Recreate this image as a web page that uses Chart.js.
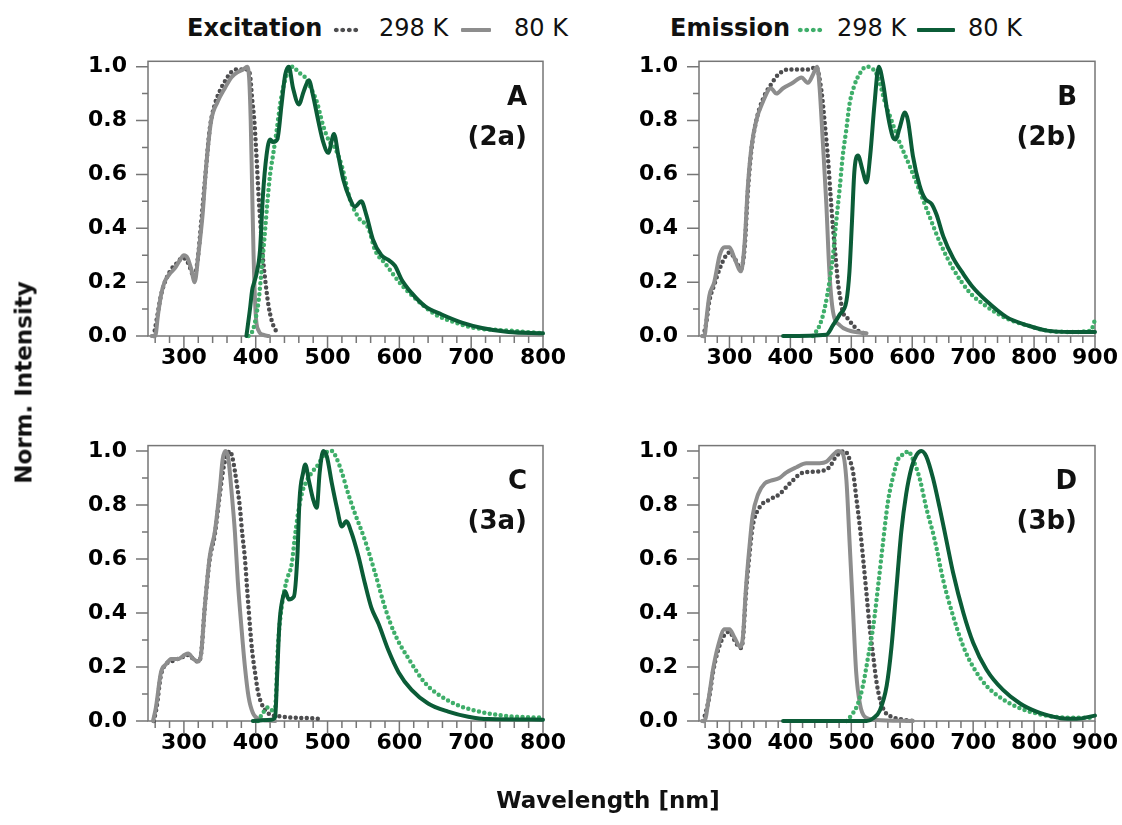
<!DOCTYPE html>
<html>
<head>
<meta charset="utf-8">
<script src="https://cdn.jsdelivr.net/npm/chart.js@4.4.1/dist/chart.umd.min.js"></script>
<style>
  body { margin: 0; background: #fff; }
  #fig { position: relative; width: 1122px; height: 825px; overflow: hidden; font-family: "DejaVu Sans", sans-serif; color: #111; }
  #fig canvas { position: absolute; }
  .txt { position: absolute; white-space: nowrap; }
  .key { top: 16px; font-size: 24px; line-height: 24px; }
  .bold { font-weight: bold; }
  .dots { position: absolute; top: 27px; height: 6px; background-size: 6.5px 6px; background-repeat: repeat-x; }
  .bar { position: absolute; top: 28px; height: 4px; border-radius: 1px; }
  .tag { font-size: 26px; line-height: 26px; font-weight: bold; text-align: right; }
</style>
</head>
<body>
<div id="fig">
  <!-- legend row -->
  <span class="txt key bold" style="left:187px">Excitation</span>
  <span class="dots" style="left:333px;width:26px;background-image:radial-gradient(circle,#4d4d4f 2px,transparent 2.6px)"></span>
  <span class="txt key" style="left:379px">298 K</span>
  <span class="bar" style="left:461px;width:30px;background:#8d8d8d"></span>
  <span class="txt key" style="left:514px">80 K</span>

  <span class="txt key bold" style="left:670px">Emission</span>
  <span class="dots" style="left:797px;width:26px;background-image:radial-gradient(circle,#3fae6a 2px,transparent 2.6px)"></span>
  <span class="txt key" style="left:837px">298 K</span>
  <span class="bar" style="left:917px;width:38px;background:#0b5c37"></span>
  <span class="txt key" style="left:968px">80 K</span>

  <canvas id="pA" width="575" height="384" style="left:0;top:40px"></canvas>
  <canvas id="pB" width="547" height="384" style="left:575px;top:40px"></canvas>
  <canvas id="pC" width="575" height="390" style="left:0;top:424px"></canvas>
  <canvas id="pD" width="547" height="390" style="left:575px;top:424px"></canvas>

  <div class="txt tag" style="right:595px;top:83px">A</div>
  <div class="txt tag" style="right:595px;top:123px">(2a)</div>
  <div class="txt tag" style="right:45px;top:83px">B</div>
  <div class="txt tag" style="right:45px;top:123px">(2b)</div>
  <div class="txt tag" style="right:595px;top:467px">C</div>
  <div class="txt tag" style="right:595px;top:507px">(3a)</div>
  <div class="txt tag" style="right:45px;top:467px">D</div>
  <div class="txt tag" style="right:45px;top:507px">(3b)</div>

  <div class="txt bold" style="left:-126px;top:371px;width:300px;height:23px;font-size:23px;line-height:23px;text-align:center;transform:rotate(-90deg)">Norm. Intensity</div>
  <div class="txt bold" style="left:408px;top:789px;width:400px;font-size:23px;line-height:23px;text-align:center">Wavelength [nm]</div>
</div>

<script>
// ---- panel A (2a) ----
const aExc298Wl = [258, 262, 268, 275, 283, 290, 298, 304, 309, 314, 319, 324, 330, 336, 343, 350, 358, 366, 374, 382, 388, 392, 395, 398, 401, 404, 407, 410, 414, 418, 422, 426, 431];
const aExc298   = [0, 0.06, 0.15, 0.21, 0.25, 0.27, 0.29, 0.28, 0.25, 0.22, 0.28, 0.42, 0.60, 0.77, 0.86, 0.91, 0.95, 0.98, 0.99, 0.99, 0.99, 0.97, 0.88, 0.80, 0.67, 0.52, 0.40, 0.29, 0.19, 0.11, 0.06, 0.03, 0.01];
const aExc80Wl  = [255, 260, 264, 268, 273, 280, 287, 294, 300, 305, 310, 315, 320, 326, 331, 338, 347, 357, 366, 375, 383, 388, 391, 393, 395, 397, 400, 404, 410, 418];
const aExc80    = [0, 0, 0.08, 0.15, 0.20, 0.23, 0.25, 0.28, 0.30, 0.29, 0.25, 0.20, 0.30, 0.45, 0.63, 0.80, 0.87, 0.92, 0.96, 0.98, 0.99, 1.0, 0.95, 0.80, 0.55, 0.30, 0.08, 0.02, 0.005, 0];
const aEm298Wl  = [390, 394, 398, 401, 404, 408, 412, 416, 420, 424, 429, 434, 438, 445, 452, 459, 469, 475, 485, 494, 503, 510, 520, 531, 543, 557, 566, 580, 603, 626, 650, 678, 705, 752, 800];
const aEm298    = [0, 0.01, 0.04, 0.08, 0.13, 0.24, 0.36, 0.49, 0.60, 0.67, 0.76, 0.86, 0.92, 0.98, 1.0, 0.98, 0.96, 0.93, 0.87, 0.78, 0.72, 0.70, 0.63, 0.51, 0.44, 0.40, 0.32, 0.27, 0.19, 0.13, 0.08, 0.05, 0.03, 0.02, 0.01];
const aEm80Wl   = [387, 392, 395, 398, 401, 406, 410, 415, 420, 424, 430, 436, 441, 446, 452, 460, 467, 474, 480, 487, 494, 501, 509, 515, 522, 531, 538, 547, 554, 563, 575, 586, 594, 603, 617, 636, 659, 687, 715, 752, 800];
const aEm80     = [0, 0.10, 0.17, 0.20, 0.23, 0.32, 0.52, 0.67, 0.73, 0.72, 0.73, 0.86, 0.97, 1.0, 0.92, 0.86, 0.91, 0.95, 0.89, 0.80, 0.72, 0.68, 0.75, 0.67, 0.58, 0.51, 0.48, 0.50, 0.45, 0.36, 0.30, 0.28, 0.26, 0.21, 0.16, 0.11, 0.08, 0.05, 0.03, 0.015, 0.01];

// ---- panel B (2b) ----
const bExc298Wl = [257, 262, 267, 275, 284, 292, 300, 308, 319, 325, 330, 336, 344, 355, 370, 382, 399, 415, 432, 442, 451, 456, 462, 466, 470, 474, 478, 482, 486, 494, 503, 514, 525];
const bExc298   = [0, 0.05, 0.13, 0.19, 0.25, 0.29, 0.31, 0.29, 0.25, 0.33, 0.53, 0.69, 0.80, 0.88, 0.94, 0.975, 0.99, 0.99, 0.99, 1.0, 0.91, 0.80, 0.65, 0.52, 0.40, 0.30, 0.20, 0.14, 0.09, 0.065, 0.04, 0.015, 0.01];
const bExc80Wl  = [255, 259, 263, 267, 275, 284, 292, 300, 308, 319, 325, 330, 336, 344, 355, 368, 377, 388, 404, 418, 429, 437, 444, 448, 453, 459, 464, 470, 481, 497, 525];
const bExc80    = [0, 0, 0.08, 0.15, 0.20, 0.30, 0.33, 0.33, 0.29, 0.24, 0.35, 0.55, 0.70, 0.80, 0.87, 0.92, 0.90, 0.92, 0.94, 0.96, 0.94, 0.97, 1.0, 0.92, 0.73, 0.49, 0.24, 0.09, 0.04, 0.02, 0.01];
const bEm298Wl  = [437, 448, 456, 464, 470, 475, 481, 486, 492, 497, 505, 514, 525, 536, 544, 555, 566, 579, 596, 612, 629, 645, 667, 695, 722, 755, 788, 821, 860, 893, 900];
const bEm298    = [0, 0.04, 0.10, 0.20, 0.30, 0.42, 0.55, 0.67, 0.77, 0.86, 0.93, 0.975, 1.0, 0.99, 0.96, 0.87, 0.80, 0.72, 0.63, 0.54, 0.44, 0.35, 0.25, 0.16, 0.11, 0.065, 0.04, 0.02, 0.015, 0.02, 0.06];
const bEm80Wl   = [388, 459, 470, 481, 492, 497, 501, 505, 511, 518, 525, 531, 538, 545, 552, 560, 568, 573, 579, 588, 593, 601, 612, 621, 632, 640, 651, 667, 684, 700, 722, 755, 788, 821, 860, 900];
const bEm80     = [0, 0.005, 0.04, 0.08, 0.13, 0.24, 0.42, 0.61, 0.67, 0.62, 0.57, 0.67, 0.86, 1.0, 0.94, 0.82, 0.74, 0.73, 0.77, 0.83, 0.80, 0.67, 0.56, 0.51, 0.49, 0.45, 0.37, 0.29, 0.23, 0.18, 0.13, 0.07, 0.04, 0.02, 0.015, 0.015];

// ---- panel C (3a) ----
const cExc298Wl = [258, 262, 268, 275, 282, 292, 301, 306, 313, 320, 324, 329, 336, 343, 350, 356, 361, 364, 368, 373, 378, 381, 385, 388, 392, 395, 399, 403, 408, 415, 422, 431, 450, 478, 490];
const cExc298   = [0, 0.05, 0.17, 0.21, 0.22, 0.23, 0.24, 0.245, 0.23, 0.22, 0.25, 0.42, 0.60, 0.69, 0.84, 0.95, 0.99, 1.0, 0.97, 0.89, 0.79, 0.70, 0.60, 0.49, 0.35, 0.26, 0.18, 0.11, 0.065, 0.035, 0.022, 0.018, 0.013, 0.01, 0.008];
const cExc80Wl  = [257, 261, 268, 275, 282, 292, 301, 306, 313, 320, 324, 329, 336, 343, 350, 354, 358, 362, 366, 371, 375, 380, 385, 390, 396, 406, 427];
const cExc80    = [0, 0.05, 0.18, 0.21, 0.23, 0.23, 0.245, 0.25, 0.23, 0.22, 0.25, 0.42, 0.61, 0.70, 0.86, 0.97, 1.0, 0.97, 0.86, 0.70, 0.52, 0.35, 0.20, 0.09, 0.03, 0.006, 0];
const cEm298Wl  = [403, 410, 417, 422, 427, 431, 436, 443, 450, 454, 459, 464, 471, 478, 487, 496, 506, 513, 520, 529, 538, 552, 566, 580, 594, 613, 636, 659, 687, 720, 752, 800];
const cEm298    = [0, 0.03, 0.05, 0.04, 0.05, 0.28, 0.42, 0.52, 0.58, 0.67, 0.77, 0.84, 0.89, 0.92, 0.95, 0.99, 1.0, 0.97, 0.92, 0.84, 0.77, 0.67, 0.55, 0.42, 0.32, 0.23, 0.14, 0.09, 0.053, 0.03, 0.018, 0.012];
const cEm80Wl   = [396, 422, 427, 430, 433, 438, 441, 446, 453, 458, 461, 466, 469, 474, 480, 485, 489, 494, 499, 506, 513, 520, 526, 533, 543, 552, 561, 571, 585, 599, 617, 640, 668, 696, 724, 800];
const cEm80     = [0, 0.005, 0.015, 0.18, 0.36, 0.46, 0.48, 0.45, 0.46, 0.61, 0.82, 0.92, 0.95, 0.89, 0.82, 0.79, 0.92, 1.0, 0.98, 0.88, 0.79, 0.72, 0.74, 0.70, 0.61, 0.51, 0.42, 0.36, 0.26, 0.18, 0.115, 0.065, 0.035, 0.016, 0.007, 0.005];

// ---- panel D (3b) ----
const dExc298Wl = [257, 262, 267, 273, 281, 292, 300, 308, 318, 322, 327, 333, 338, 349, 366, 382, 399, 421, 448, 464, 475, 489, 497, 503, 508, 514, 519, 525, 530, 536, 541, 547, 555, 566, 585, 601];
const dExc298   = [0, 0.04, 0.09, 0.18, 0.26, 0.32, 0.33, 0.30, 0.27, 0.30, 0.47, 0.62, 0.72, 0.79, 0.82, 0.84, 0.88, 0.92, 0.925, 0.94, 0.98, 1.0, 0.97, 0.92, 0.83, 0.72, 0.61, 0.47, 0.35, 0.24, 0.15, 0.08, 0.035, 0.016, 0.005, 0];
const dExc80Wl  = [255, 259, 267, 273, 281, 292, 300, 308, 318, 322, 327, 333, 338, 347, 358, 368, 382, 393, 410, 426, 448, 459, 470, 478, 486, 492, 497, 503, 508, 514, 522, 541, 601];
const dExc80    = [0, 0, 0.10, 0.19, 0.275, 0.34, 0.34, 0.31, 0.275, 0.31, 0.49, 0.65, 0.76, 0.84, 0.88, 0.89, 0.90, 0.92, 0.94, 0.955, 0.955, 0.96, 0.985, 1.0, 0.99, 0.89, 0.67, 0.40, 0.18, 0.065, 0.016, 0.004, 0];
const dEm298Wl  = [492, 503, 511, 519, 527, 536, 544, 552, 560, 568, 577, 588, 593, 601, 612, 623, 637, 651, 667, 684, 700, 722, 749, 777, 804, 831, 860, 900];
const dEm298    = [0, 0.03, 0.065, 0.13, 0.23, 0.35, 0.50, 0.66, 0.81, 0.90, 0.97, 0.99, 1.0, 0.97, 0.90, 0.79, 0.67, 0.52, 0.39, 0.275, 0.20, 0.13, 0.08, 0.047, 0.028, 0.016, 0.012, 0.012];
const dEm80Wl   = [388, 525, 536, 547, 558, 566, 574, 582, 590, 599, 607, 615, 623, 634, 645, 656, 667, 684, 700, 722, 749, 777, 804, 831, 844, 870, 900];
const dEm80     = [0, 0, 0.01, 0.04, 0.13, 0.275, 0.49, 0.70, 0.84, 0.94, 0.985, 1.0, 0.98, 0.90, 0.79, 0.67, 0.55, 0.40, 0.29, 0.19, 0.115, 0.065, 0.035, 0.016, 0.01, 0.008, 0.02];

// axis ticks
const yMajor = [0, 0.2, 0.4, 0.6, 0.8, 1.0];
const yMinor = [0.1, 0.3, 0.5, 0.7, 0.9];
const xMajor800 = [300, 400, 500, 600, 700, 800];
const xMajor900 = [300, 400, 500, 600, 700, 800, 900];

const EXC_RT = '#4d4d4f';   // excitation 298 K, dotted
const EXC_LT = '#8d8d8d';   // excitation 80 K, solid
const EM_RT  = '#3fae6a';   // emission 298 K, dotted
const EM_LT  = '#0b5c37';   // emission 80 K, solid

Chart.defaults.font.family = '"DejaVu Sans", sans-serif';
Chart.defaults.color = '#000';

function pts(wl, val) {
  return wl.map((x, i) => ({ x: x, y: val[i] }));
}

function minorTicks(max) {
  const t = [];
  for (let v = 260; v < max; v += 20) if (v % 100) t.push(v);
  return t;
}

function dotted(color, wl, val) {
  return {
    data: pts(wl, val), borderColor: color, borderWidth: 4.5,
    borderDash: [0, 5.5], borderCapStyle: 'round', pointRadius: 0,
    cubicInterpolationMode: 'monotone', clip: 5
  };
}

function solid(color, wl, val) {
  return {
    data: pts(wl, val), borderColor: color, borderWidth: 4,
    borderJoinStyle: 'round', borderCapStyle: 'round', pointRadius: 0,
    cubicInterpolationMode: 'monotone', clip: 5
  };
}

// plot frame plus outward major/minor tick marks
const axisFrame = {
  id: 'axisFrame',
  beforeDatasetsDraw(chart, args, opts) {
    const { ctx, chartArea: a, scales: { x, y } } = chart;
    ctx.save();
    ctx.strokeStyle = '#767676';
    ctx.lineWidth = 1.5;
    ctx.strokeRect(a.left, a.top, a.right - a.left, a.bottom - a.top);
    ctx.beginPath();
    opts.xMajor.forEach(v => { const p = x.getPixelForValue(v); ctx.moveTo(p, a.bottom); ctx.lineTo(p, a.bottom + 13); });
    opts.xMinor.forEach(v => { const p = x.getPixelForValue(v); ctx.moveTo(p, a.bottom); ctx.lineTo(p, a.bottom + 7); });
    yMajor.forEach(v => { const p = y.getPixelForValue(v); ctx.moveTo(a.left - 12, p); ctx.lineTo(a.left, p); });
    yMinor.forEach(v => { const p = y.getPixelForValue(v); ctx.moveTo(a.left - 6, p); ctx.lineTo(a.left, p); });
    ctx.stroke();
    ctx.restore();
  }
};

// datasets listed top-most first: Chart.js paints the first one last
function panel(id, xMax, xMajor, yw, xh, padTop, padRight, exc298, exc80, em298, em80) {
  return new Chart(document.getElementById(id), {
    type: 'line',
    data: {
      datasets: [
        solid(EM_LT, em80[0], em80[1]),
        dotted(EM_RT, em298[0], em298[1]),
        solid(EXC_LT, exc80[0], exc80[1]),
        dotted(EXC_RT, exc298[0], exc298[1])
      ]
    },
    options: {
      responsive: false,
      animation: false,
      events: [],
      layout: { padding: { left: 0, right: padRight, top: padTop, bottom: 0 } },
      plugins: {
        legend: { display: false },
        tooltip: { enabled: false },
        axisFrame: { xMajor: xMajor, xMinor: minorTicks(xMax) }
      },
      scales: {
        x: {
          type: 'linear', min: 250, max: xMax,
          grid: { display: false, drawTicks: false },
          border: { display: false },
          ticks: { padding: 9, maxRotation: 0, autoSkip: false, font: { size: 22, weight: 'bold' }, callback: v => String(v) },
          afterBuildTicks: s => { s.ticks = xMajor.map(v => ({ value: v })); },
          afterFit: s => { s.height = xh; s.paddingLeft = 0; s.paddingRight = 0; }
        },
        y: {
          type: 'linear', min: 0, max: 1.02,
          grid: { display: false, drawTicks: false },
          border: { display: false },
          ticks: { padding: 21, font: { size: 22, weight: 'bold' }, callback: v => v.toFixed(1) },
          afterBuildTicks: s => { s.ticks = yMajor.map(v => ({ value: v })); },
          afterFit: s => { s.width = yw; s.paddingTop = 0; s.paddingBottom = 0; }
        }
      }
    },
    plugins: [axisFrame]
  });
}

panel('pA', 800, xMajor800, 148, 88, 21.3, 32,
  [aExc298Wl, aExc298], [aExc80Wl, aExc80], [aEm298Wl, aEm298], [aEm80Wl, aEm80]);
panel('pB', 900, xMajor900, 124, 88, 21.3, 27,
  [bExc298Wl, bExc298], [bExc80Wl, bExc80], [bEm298Wl, bEm298], [bEm80Wl, bEm80]);
panel('pC', 800, xMajor800, 148, 93, 21.6, 32,
  [cExc298Wl, cExc298], [cExc80Wl, cExc80], [cEm298Wl, cEm298], [cEm80Wl, cEm80]);
panel('pD', 900, xMajor900, 124, 93, 21.6, 27,
  [dExc298Wl, dExc298], [dExc80Wl, dExc80], [dEm298Wl, dEm298], [dEm80Wl, dEm80]);
</script>
</body>
</html>
